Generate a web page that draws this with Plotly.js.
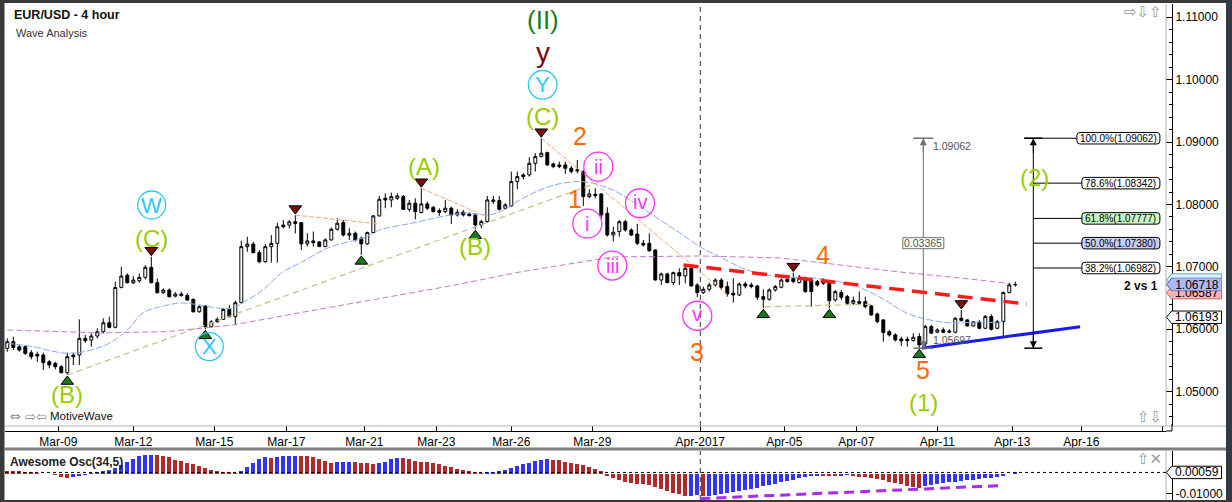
<!DOCTYPE html>
<html><head><meta charset="utf-8">
<script src="https://cdn.plot.ly/plotly-3.0.1.min.js"></script>
<style>html,body{margin:0;padding:0;background:#fff;overflow:hidden}#chart{width:1232px;height:502px}</style>
</head><body><div id="chart"></div>
<script>
// ---------------- DATA ----------------
const openP = [1.05694,1.05801,1.05721,1.05721,1.05625,1.05598,1.05587,1.05480,1.05454,1.05400,
1.05304,1.05587,1.05587,1.05854,1.05828,1.05892,1.05961,1.06105,1.06031,1.06671,
1.06864,1.06746,1.06778,1.06832,1.06992,1.06746,1.06586,1.06629,1.06532,1.06564,
1.06543,1.06479,1.06281,1.06372,1.06041,1.06121,1.06159,1.06319,1.06201,1.06426,
1.07324,1.07366,1.07228,1.07083,1.07324,1.07377,1.07670,1.07670,1.07723,1.07710,
1.07368,1.07416,1.07400,1.07325,1.07432,1.07603,1.07710,1.07507,1.07539,1.07459,
1.07368,1.07550,1.07817,1.08100,1.08073,1.08100,1.08126,1.07923,1.08020,1.07870,
1.08009,1.07955,1.07902,1.07886,1.07940,1.07833,1.07875,1.07849,1.07833,1.07672,
1.07726,1.08046,1.08062,1.07940,1.07977,1.08367,1.08474,1.08474,1.08660,1.08767,
1.08831,1.08650,1.08634,1.08634,1.08581,1.08538,1.08527,1.08126,1.08164,1.08169,
1.07859,1.07512,1.07565,1.07725,1.07591,1.07527,1.07378,1.07378,1.07271,1.06790,
1.06887,1.06748,1.06908,1.06855,1.06978,1.06710,1.06587,1.06641,1.06710,1.06790,
1.06684,1.06577,1.06550,1.06726,1.06710,1.06694,1.06523,1.06481,1.06630,1.06673,
1.06801,1.06817,1.06748,1.06817,1.06790,1.06764,1.06780,1.06737,1.06470,1.06588,
1.06524,1.06417,1.06444,1.06444,1.06374,1.06246,1.06150,1.05963,1.05910,1.05846,
1.05840,1.05819,1.05883,1.05766,1.06043,1.05953,1.05990,1.05953,1.05953,1.06177,
1.06150,1.06054,1.06107,1.06017,1.06204,1.06017,1.06123,1.06588,1.06711];
const highP = [1.05854,1.05881,1.05748,1.05748,1.05667,1.05641,1.05625,1.05507,1.05480,1.05427,
1.05625,1.05625,1.06159,1.05908,1.05934,1.06015,1.06175,1.06201,1.06762,1.07002,
1.06896,1.06853,1.06896,1.07029,1.07163,1.06816,1.06655,1.06655,1.06596,1.06602,
1.06575,1.06495,1.06388,1.06388,1.06148,1.06191,1.06335,1.06388,1.06458,1.07420,
1.07484,1.07403,1.07270,1.07366,1.07511,1.07707,1.07750,1.07750,1.07830,1.07710,
1.07539,1.07566,1.07411,1.07459,1.07630,1.07779,1.07752,1.07619,1.07566,1.07486,
1.07566,1.07833,1.08137,1.08180,1.08190,1.08180,1.08153,1.08073,1.08100,1.08260,
1.08046,1.07977,1.07940,1.08073,1.07966,1.07923,1.07913,1.07870,1.07859,1.07752,
1.08137,1.08137,1.08137,1.08020,1.08527,1.08527,1.08500,1.08757,1.08821,1.09062,
1.08847,1.08671,1.08687,1.08687,1.08618,1.08714,1.08554,1.08244,1.08260,1.08180,
1.07955,1.07646,1.07752,1.07752,1.07618,1.07688,1.07431,1.07538,1.07282,1.06908,
1.06908,1.06924,1.06978,1.07004,1.07004,1.06737,1.06684,1.06748,1.06817,1.06817,
1.06764,1.06817,1.06748,1.06764,1.06748,1.06710,1.06641,1.06657,1.06710,1.06817,
1.06844,1.06908,1.06870,1.06844,1.06817,1.06790,1.06817,1.06764,1.06630,1.06631,
1.06551,1.06524,1.06604,1.06524,1.06390,1.06268,1.06161,1.05990,1.05937,1.05883,
1.05883,1.05937,1.05937,1.06070,1.06070,1.06017,1.06027,1.06000,1.06193,1.06310,
1.06161,1.06134,1.06150,1.06230,1.06241,1.06150,1.06604,1.06748,1.06764];
const lowP = [1.05641,1.05667,1.05641,1.05587,1.05518,1.05480,1.05347,1.05374,1.05358,1.05294,
1.05267,1.05427,1.05427,1.05785,1.05721,1.05854,1.05934,1.06015,1.06015,1.06655,
1.06735,1.06725,1.06746,1.06800,1.06735,1.06575,1.06564,1.06511,1.06511,1.06520,
1.06458,1.06266,1.06266,1.05999,1.06031,1.06105,1.06148,1.06191,1.06084,1.06415,
1.07244,1.07217,1.07057,1.07067,1.07067,1.07067,1.07617,1.07617,1.07537,1.07272,
1.07325,1.07325,1.07320,1.07315,1.07421,1.07582,1.07486,1.07432,1.07405,1.07192,
1.07352,1.07539,1.07806,1.07940,1.07955,1.08073,1.07913,1.07886,1.07763,1.07859,
1.07913,1.07870,1.07817,1.07859,1.07689,1.07806,1.07806,1.07806,1.07603,1.07619,
1.07710,1.08009,1.07902,1.07923,1.07966,1.08243,1.08404,1.08447,1.08527,1.08757,
1.08618,1.08581,1.08581,1.08490,1.08500,1.08500,1.07977,1.08100,1.08100,1.07779,
1.07486,1.07406,1.07485,1.07565,1.07495,1.07351,1.07324,1.07244,1.06780,1.06710,
1.06737,1.06710,1.06710,1.06737,1.06684,1.06513,1.06566,1.06604,1.06684,1.06630,
1.06523,1.06427,1.06534,1.06657,1.06657,1.06470,1.06336,1.06459,1.06604,1.06657,
1.06748,1.06737,1.06737,1.06587,1.06363,1.06684,1.06710,1.06336,1.06443,1.06471,
1.06390,1.06390,1.06390,1.06337,1.06214,1.06097,1.05803,1.05883,1.05803,1.05733,
1.05723,1.05803,1.05697,1.05723,1.05926,1.05937,1.05937,1.05937,1.05937,1.06124,
1.06043,1.06043,1.06000,1.06000,1.05979,1.06000,1.05883,1.06577,1.06684];
const closeP = [1.05801,1.05710,1.05667,1.05614,1.05561,1.05571,1.05464,1.05427,1.05400,1.05304,
1.05561,1.05561,1.05854,1.05817,1.05892,1.05961,1.06105,1.06031,1.06671,1.06853,
1.06746,1.06789,1.06832,1.06992,1.06746,1.06586,1.06629,1.06522,1.06564,1.06543,
1.06468,1.06281,1.06362,1.06041,1.06121,1.06159,1.06319,1.06201,1.06426,1.07324,
1.07366,1.07228,1.07083,1.07324,1.07377,1.07643,1.07643,1.07723,1.07697,1.07368,
1.07416,1.07389,1.07325,1.07432,1.07603,1.07699,1.07512,1.07539,1.07432,1.07368,
1.07550,1.07817,1.08084,1.08073,1.08126,1.08137,1.07923,1.08020,1.07886,1.08009,
1.07940,1.07886,1.07875,1.07940,1.07833,1.07875,1.07833,1.07822,1.07672,1.07726,
1.08073,1.08073,1.07923,1.07993,1.08367,1.08447,1.08447,1.08660,1.08767,1.08821,
1.08634,1.08607,1.08607,1.08581,1.08527,1.08554,1.08126,1.08169,1.08142,1.07833,
1.07512,1.07555,1.07725,1.07591,1.07511,1.07378,1.07351,1.07260,1.06790,1.06887,
1.06748,1.06908,1.06855,1.06978,1.06694,1.06587,1.06641,1.06710,1.06790,1.06673,
1.06566,1.06550,1.06726,1.06694,1.06684,1.06513,1.06481,1.06630,1.06684,1.06790,
1.06764,1.06764,1.06817,1.06604,1.06604,1.06710,1.06737,1.06459,1.06604,1.06513,
1.06417,1.06460,1.06417,1.06364,1.06230,1.06123,1.05947,1.05910,1.05830,1.05814,
1.05819,1.05872,1.05750,1.06043,1.05937,1.05990,1.05953,1.05970,1.06177,1.06140,
1.06054,1.06123,1.06017,1.06204,1.06001,1.06123,1.06588,1.06711,1.06718];

// Awesome Oscillator (34,5)
const aoValues = [0.0013,0.00125,0.0012,0.0010,0.0008,0.0003,-0.0001,-0.0004,-0.0008,-0.0015,
-0.0024,-0.0017,-0.0013,-0.0007,0.0005,0.0008,0.0013,0.0020,0.0030,0.0044,
0.0060,0.0076,0.0089,0.0093,0.0095,0.0093,0.0090,0.0083,0.0070,0.0062,
0.0055,0.0047,0.0037,0.0027,0.0019,0.0014,0.0010,0.0006,0.0003,0.0013,
0.0035,0.0055,0.0075,0.0084,0.0081,0.0085,0.0087,0.0089,0.0091,0.0090,
0.0087,0.0082,0.0073,0.0062,0.0055,0.0057,0.0059,0.0061,0.0056,0.0053,
0.0051,0.0047,0.0054,0.0061,0.0075,0.0081,0.0079,0.0073,0.0066,0.0061,
0.0056,0.0051,0.0047,0.0040,0.0032,0.0024,0.0018,0.0013,0.0008,0.0004,
0.0006,0.0008,0.0013,0.0020,0.0030,0.0037,0.0047,0.0055,0.0064,0.0070,
0.0073,0.0071,0.0067,0.0061,0.0055,0.0048,0.0041,0.0031,0.0022,0.0011,
-0.0010,-0.0022,-0.0033,-0.0040,-0.0047,-0.0050,-0.0054,-0.0058,-0.0067,-0.0079,
-0.0088,-0.0097,-0.0105,-0.0113,-0.0111,-0.0109,-0.0115,-0.0112,-0.0107,-0.0101,
-0.0096,-0.0091,-0.0087,-0.0082,-0.0077,-0.0071,-0.0064,-0.0057,-0.0050,-0.0044,
-0.0037,-0.0030,-0.0024,-0.0019,-0.0014,-0.0011,-0.0012,-0.0013,-0.0014,-0.0010,
-0.0008,-0.0011,-0.0015,-0.0018,-0.0021,-0.0025,-0.0031,-0.0040,-0.0047,-0.0054,
-0.0063,-0.0067,-0.0071,-0.0062,-0.0057,-0.0051,-0.0047,-0.0044,-0.0040,-0.0037,
-0.0034,-0.0030,-0.0027,-0.0024,-0.0020,-0.0017,-0.0010,-0.0003,0.00059];

// moving averages (candle index, price)
const maFastIdx = [0,4.3,9.3,12.6,17.1,20,22.6,25.4,28.8,32.1,35,37.6,40,42.6,45.9,48.8,53.8,59.3,62.1,67.6,72.1,76.6,79.9,82.1,85.4,88.8,92.6,96.6,100.9,103.8,108.8,112.1,115.5,118.8,123.3,128.8,134.3,138.8,141,145.4,149.9,153.8,157.6,161.6,165.5,166.6];
const maFastVal = [1.05776,1.05721,1.05620,1.05636,1.05780,1.05989,1.06261,1.06357,1.06421,1.06389,1.06341,1.06341,1.06470,1.06630,1.06918,1.07063,1.07319,1.07463,1.07592,1.07704,1.07800,1.07864,1.07832,1.07880,1.08072,1.08232,1.08344,1.08360,1.08232,1.08072,1.07752,1.07543,1.07319,1.07159,1.06950,1.06838,1.06822,1.06758,1.06710,1.06518,1.06261,1.06149,1.06101,1.06117,1.06117,1.06181];
const maSlowIdx = [0,15.5,26.6,37.6,48.8,61,73.8,85.4,100.9,115.5,128.8,138.8,148.8,158.8,166.3];
const maSlowVal = [1.05989,1.05941,1.05962,1.06069,1.06266,1.06470,1.06694,1.06918,1.07159,1.07175,1.07143,1.07030,1.06918,1.06822,1.06742];

// wave connector / trend lines (candle index, price)
const oliveIdx = [10,98.8,null,126.3,144.3];
const oliveVal = [1.05267,1.08365,null,1.06362,1.06401];
const orangeIdx = [48,62,null,69,79.9,null,89,120.1];
const orangeVal = [1.07830,1.07688,null,1.08260,1.07805,null,1.09062,1.06550];
const redTrendIdx = [112.7,169.9];
const redTrendVal = [1.07030,1.06405];
const blueTrendIdx = [152.4,178.8];
const blueTrendVal = [1.05697,1.06042];
const oscTrendIdx = [115.5,166];
const oscTrendVal = [-0.0126,-0.0060];

// swing markers (candle indices)
const peakIdx = [24,48,69,89,131,159];
const troughIdx = [10,33,59,78,126,137,152];

// fibonacci / measuring tools
const toolHigh = 1.09062, toolLow = 1.05697, toolDiff = '0.03365';
const fibPct = ['100.0%','78.6%','61.8%','50.0%','38.2%'];
const fibLevels = [1.09062,1.08342,1.07777,1.07380,1.06982];
const measureIdx = 152.67, fibIdx = 171.0, fibBoxRightIdx = 192.1;

// axis tags on the right
const tagVals = [1.06790,1.06587,1.06718,1.06193];
const oscTagVal = 0.00059;

// x-axis ticks
const tickPos = [8.5,21,34.5,46.5,59.5,71.5,84,97.5,115.5,129.5,141.5,155,167.5,179,192.5];
const tickLabels = ['Mar-09','Mar-12','Mar-15','Mar-17','Mar-21','Mar-23','Mar-26','Mar-29','Apr-2017','Apr-05','Apr-07','Apr-11','Apr-13','Apr-16',''];
const monthStartIdx = 115.5;

// ---------------- STYLE ----------------
const W = 1232, H = 502;
const FONT = 'Liberation Sans, Arial, sans-serif';
const px = x => x / W, py = y => 1 - y / H;
const X_RANGE = [-0.383, 193.117];
const Y_RANGE = [1.04450, 1.11213];
const Y2_RANGE = [-0.0133, 0.01139];
const pricePerPx = (Y_RANGE[1] - Y_RANGE[0]) / (426 - 4);
const triOff = 6.5 * pricePerPx;

const YG = '#9acd00', OR = '#ff6a00', CY = '#2cc8f8', MG = '#ff33ff', DG = '#1a7f1a', DR = '#7f0a0a';

const waveLabels = [
  {t:'(II)', i:89, a:'H', dx:1.4, dy:118.4, c:DG, s:26},
  {t:'y', i:89, a:'H', dx:1.4, dy:86, c:DR, s:28},
  {t:'Y', i:89, a:'H', dx:1.4, dy:53.4, c:CY, s:22, r:14.3},
  {t:'(C)', i:89, a:'H', dx:1.4, dy:22, c:YG, s:24},
  {t:'2', i:89, a:'H', dx:38.7, dy:2, c:OR, s:25},
  {t:'W', i:24, a:'H', dx:0.4, dy:51.7, c:CY, s:22, r:14},
  {t:'(C)', i:24, a:'H', dx:0, dy:18.7, c:YG, s:24},
  {t:'(B)', i:10, a:'L', dx:-0.6, dy:-19.7, c:YG, s:24},
  {t:'X', i:33, a:'L', dx:4, dy:-17.2, c:CY, s:22, r:14},
  {t:'(A)', i:69, a:'H', dx:2.7, dy:22, c:YG, s:24},
  {t:'(B)', i:78, a:'L', dx:0, dy:-17, c:YG, s:24},
  {t:'1', i:96, a:'L', dx:-8.3, dy:7.1, c:OR, s:25},
  {t:'ii', i:98, a:'H', dx:3, dy:21.6, c:MG, s:20, r:14.5},
  {t:'i', i:97, a:'L', dx:-2, dy:-25.4, c:MG, s:20, r:14.5},
  {t:'iii', i:101, a:'L', dx:-1, dy:-24, c:MG, s:20, r:14.5},
  {t:'iv', i:105, a:'H', dx:2.7, dy:20.7, c:MG, s:20, r:14.5, tdy:1},
  {t:'v', i:115, a:'L', dx:0, dy:-18.5, c:MG, s:20, r:14.5, tdy:2},
  {t:'3', i:115, a:'L', dx:-0.6, dy:-54.4, c:OR, s:25},
  {t:'4', i:131, a:'H', dx:30, dy:17.6, c:OR, s:25},
  {t:'5', i:152, a:'L', dx:4, dy:-21.6, c:OR, s:25},
  {t:'(1)', i:152, a:'L', dx:4, dy:-54.6, c:YG, s:24}
];

// ---------------- TRACES ----------------
const idx = openP.map((_, i) => i);
const aoColors = aoValues.map((v, i) => (i > 0 && v > aoValues[i - 1]) ? '#3333ff' : '#b02a2a');

const traces = [
  {type:'scatter', mode:'lines', x:maSlowIdx, y:maSlowVal, xaxis:'x', yaxis:'y', line:{color:'#c67ac6', width:1, dash:'6px,3px'}, hoverinfo:'skip'},
  {type:'scatter', mode:'lines', x:maFastIdx, y:maFastVal, xaxis:'x', yaxis:'y', line:{color:'#8aaaf8', width:1, dash:'7px,2px', shape:'spline'}, hoverinfo:'skip'},
  {type:'scatter', mode:'lines', x:oliveIdx, y:oliveVal, xaxis:'x', yaxis:'y', line:{color:'#c4bf86', width:1.2, dash:'6px,4px'}, hoverinfo:'skip'},
  {type:'scatter', mode:'lines', x:orangeIdx, y:orangeVal, xaxis:'x', yaxis:'y', line:{color:'#f7a777', width:1, dash:'5px,2px'}, hoverinfo:'skip'},
  {type:'candlestick', x:idx, open:openP, high:highP, low:lowP, close:closeP, xaxis:'x', yaxis:'y',
    increasing:{line:{color:'#000', width:1}, fillcolor:'#fff'},
    decreasing:{line:{color:'#000', width:1}, fillcolor:'#000'},
    whiskerwidth:0, hoverinfo:'skip'},
  {type:'scatter', mode:'lines', x:redTrendIdx, y:redTrendVal, xaxis:'x', yaxis:'y', line:{color:'#ff1a1a', width:3.5, dash:'15px,8px'}, hoverinfo:'skip'},
  {type:'scatter', mode:'lines', x:blueTrendIdx, y:blueTrendVal, xaxis:'x', yaxis:'y', line:{color:'#1a1aee', width:3}, hoverinfo:'skip'},
  {type:'scatter', mode:'markers', x:peakIdx, y:peakIdx.map(i => highP[i] + triOff), xaxis:'x', yaxis:'y',
    marker:{symbol:'triangle-down', size:11, color:'#7a1010', line:{color:'#000', width:1}}, hoverinfo:'skip'},
  {type:'scatter', mode:'markers', x:troughIdx, y:troughIdx.map(i => lowP[i] - triOff), xaxis:'x', yaxis:'y',
    marker:{symbol:'triangle-up', size:11, color:'#1a7a1a', line:{color:'#000', width:1}}, hoverinfo:'skip'},
  {type:'bar', x:idx, y:aoValues, xaxis:'x2', yaxis:'y2', width:0.72, marker:{color:aoColors, line:{width:0}}, hoverinfo:'skip'},
  {type:'scatter', mode:'lines', x:oscTrendIdx, y:oscTrendVal, xaxis:'x2', yaxis:'y2', line:{color:'#a52cf0', width:3, dash:'10px,6px'}, hoverinfo:'skip'}
];

// ---------------- SHAPES & ANNOTATIONS ----------------
const shapes = [], ann = [];
const paperRect = (x0, y0, x1, y1, fill) => shapes.push({type:'rect', xref:'paper', yref:'paper', x0:px(x0), x1:px(x1), y0:py(y1), y1:py(y0), fillcolor:fill, line:{width:0}, layer:'above'});
const paperLine = (x0, y0, x1, y1, color, w, dash) => shapes.push({type:'line', xref:'paper', yref:'paper', x0:px(x0), x1:px(x1), y0:py(y0), y1:py(y1), line:{color, width:w||1, dash:dash||'solid'}, layer:'above'});

// frame
paperLine(4, 426, 1226, 426, '#b4b4aa');
paperLine(1166, 4, 1166, 426, '#b4b4aa');
paperLine(1166, 451, 1166, 500, '#b4b4aa');
paperLine(1172, 424, 1172, 431, '#000');
paperLine(1166, 431, 1172, 431, '#000');
paperRect(0, 0, 4.5, 502, '#3a3a3a');
paperRect(0, 0, 1232, 3, '#3a3a3a');
paperRect(1226, 0, 1232, 502, '#343a44');
paperRect(0, 500, 1232, 502, '#3a3a3a');
paperRect(4.5, 447.5, 1226, 450.5, '#808080');

// month separator
shapes.push({type:'line', xref:'x', yref:'paper', x0:monthStartIdx, x1:monthStartIdx, y0:py(426), y1:py(4), line:{color:'#333', width:1, dash:'5px,4px'}, layer:'below'});
shapes.push({type:'line', xref:'x2', yref:'paper', x0:monthStartIdx, x1:monthStartIdx, y0:py(500), y1:py(451), line:{color:'#333', width:1, dash:'5px,4px'}, layer:'below'});

// oscillator current value line
shapes.push({type:'line', xref:'paper', yref:'y2', x0:px(5), x1:px(1167), y0:aoValues[aoValues.length-1], y1:aoValues[aoValues.length-1], line:{color:'#000', width:1, dash:'3px,3px'}});

// wave labels
waveLabels.forEach(l => {
  const y = l.a === 'H' ? highP[l.i] : lowP[l.i];
  ann.push({x:l.i, y, xref:'x', yref:'y', text:l.t, showarrow:false, xshift:l.dx, yshift:l.dy + (l.tdy || 0),
    xanchor:'center', yanchor:'middle', font:{family:FONT, size:l.s, color:l.c}});
  if (l.r) shapes.push({type:'circle', xref:'x', yref:'y', xsizemode:'pixel', ysizemode:'pixel', xanchor:l.i, yanchor:y,
    x0:l.dx - l.r, x1:l.dx + l.r, y0:l.dy - l.r, y1:l.dy + l.r, line:{color:l.c, width:1.3}, layer:'above'});
});

// measure tool (grey)
const GR = '#707070';
shapes.push({type:'line', xref:'x', yref:'y', x0:measureIdx, x1:measureIdx, y0:toolLow, y1:toolHigh, line:{color:GR, width:1}});
[toolHigh, toolLow].forEach(v => shapes.push({type:'line', xref:'x', yref:'y', xsizemode:'pixel', xanchor:measureIdx, x0:-10, x1:10, y0:v, y1:v, line:{color:GR, width:1.5}}));
ann.push({x:measureIdx, y:toolHigh, xref:'x', yref:'y', ax:0, ay:16, text:'', showarrow:true, arrowhead:2, arrowsize:1.4, arrowwidth:1, arrowcolor:GR});
ann.push({x:measureIdx, y:toolLow, xref:'x', yref:'y', ax:0, ay:-16, text:'', showarrow:true, arrowhead:2, arrowsize:1.4, arrowwidth:1, arrowcolor:GR});
ann.push({x:measureIdx, y:toolHigh, xref:'x', yref:'y', text:toolHigh.toFixed(5), showarrow:false, xanchor:'left', xshift:8, yshift:-8, font:{family:FONT, size:10.5, color:'#555'}});
ann.push({x:measureIdx, y:toolLow, xref:'x', yref:'y', text:toolLow.toFixed(5), showarrow:false, xanchor:'left', xshift:8, yshift:8, font:{family:FONT, size:10.5, color:'#555'}});
const mid = (toolHigh + toolLow) / 2;
shapes.push({type:'rect', xref:'x', yref:'y', xsizemode:'pixel', ysizemode:'pixel', xanchor:measureIdx, yanchor:mid, x0:-20.5, x1:20.5, y0:-5.5, y1:5.5, fillcolor:'#fff', line:{color:GR, width:1}, layer:'above'});
ann.push({x:measureIdx, y:mid, xref:'x', yref:'y', text:toolDiff, showarrow:false, xanchor:'center', font:{family:FONT, size:10.5, color:'#555'}});

// fibonacci tool (black)
function rrect(x0, x1, h, r) {
  const t = h / 2;
  return `M${x0+r},${t} L${x1-r},${t} Q${x1},${t} ${x1},${t-r} L${x1},${-t+r} Q${x1},${-t} ${x1-r},${-t} L${x0+r},${-t} Q${x0},${-t} ${x0},${-t+r} L${x0},${t-r} Q${x0},${t} ${x0+r},${t} Z`;
}
shapes.push({type:'line', xref:'x', yref:'y', x0:fibIdx, x1:fibIdx, y0:toolLow, y1:toolHigh, line:{color:'#000', width:1}});
[toolHigh, toolLow].forEach(v => shapes.push({type:'line', xref:'x', yref:'y', xsizemode:'pixel', xanchor:fibIdx, x0:-9, x1:9, y0:v, y1:v, line:{color:'#000', width:1.5}}));
ann.push({x:fibIdx, y:toolHigh, xref:'x', yref:'y', ax:0, ay:16, text:'', showarrow:true, arrowhead:2, arrowsize:1.4, arrowwidth:1, arrowcolor:'#000'});
ann.push({x:fibIdx, y:toolLow, xref:'x', yref:'y', ax:0, ay:-16, text:'', showarrow:true, arrowhead:2, arrowsize:1.4, arrowwidth:1, arrowcolor:'#000'});
const fibFill = ['#ffffff','#ffffff','#c8f7c4','#c6cdf6','#ffffff'];
fibLevels.forEach((v, k) => {
  const txt = fibPct[k] + '(' + v.toFixed(5) + ')';
  const w = 5 * txt.length + 8;
  shapes.push({type:'line', xref:'x', yref:'y', x0:fibIdx - (k === 0 ? 1.5 : 0), x1:fibBoxRightIdx - 3, y0:v, y1:v, line:{color:'#000', width:1}});
  shapes.push({type:'path', xref:'x', yref:'y', xsizemode:'pixel', ysizemode:'pixel', xanchor:fibBoxRightIdx, yanchor:v,
    path:rrect(-w, 0, 11.5, 3), fillcolor:fibFill[k], line:{color:'#000', width:1}, layer:'above'});
  ann.push({x:fibBoxRightIdx, y:v, xref:'x', yref:'y', xshift:-w/2, xanchor:'center', text:txt, showarrow:false, font:{family:FONT, size:10, color:'#000'}});
});
// (2) projection label at the fib tool
ann.push({x:fibIdx, y:fibLevels[1], xref:'x', yref:'y', text:'(2)', showarrow:false, xanchor:'center', xshift:1, yshift:6, font:{family:FONT, size:24, color:YG}});

// right axis tags: [hidden MA tag, pink, blue (last price, on top), white]
const tagFill = ['#d6f2fb','#f5b5b5','#b0b8f4','#ffffff'];
const tagLine = ['#6aa0c8','#c06a6a','#4a58c8','#000000'];
const tagPath = 'M0,0 L5,6.2 L55,6.2 L55,-6.2 L5,-6.2 Z';
tagVals.forEach((v, k) => {
  shapes.push({type:'path', xref:'paper', yref:'y', xsizemode:'pixel', ysizemode:'pixel', xanchor:px(1166.5), yanchor:v, path:tagPath, fillcolor:tagFill[k], line:{color:tagLine[k], width:1}, layer:'above'});
  if (k === 0) return;
  const a = {x:px(1197), y:v, xref:'paper', yref:'y', xanchor:'center', yanchor:'middle', text:v.toFixed(5), showarrow:false, font:{family:FONT, size:12, color:'#000'}};
  if (k === 2) Object.assign(a, {bgcolor:tagFill[k], width:48, height:11, borderpad:0});
  ann.push(a);
});
shapes.push({type:'path', xref:'paper', yref:'y2', xsizemode:'pixel', ysizemode:'pixel', xanchor:px(1166.5), yanchor:oscTagVal, path:tagPath, fillcolor:'#fff', line:{color:'#000', width:1}, layer:'above'});
ann.push({x:px(1197), y:oscTagVal, xref:'paper', yref:'y2', xanchor:'center', yanchor:'middle', text:oscTagVal.toFixed(5), showarrow:false, font:{family:FONT, size:12, color:'#000'}});

// texts
const pText = (x, y, text, opts) => ann.push(Object.assign({x:px(x), y:py(y), xref:'paper', yref:'paper', text, showarrow:false, xanchor:'left', yanchor:'middle'}, opts));
pText(12, 15, '<b>EUR/USD - 4 hour</b>', {font:{family:FONT, size:12.5, color:'#111'}});
pText(14, 33, 'Wave Analysis', {font:{family:FONT, size:11, color:'#333'}});
pText(8, 461.5, '<b>Awesome Osc(34,5)</b>', {font:{family:FONT, size:12, color:'#222'}});
pText(48, 416, 'MotiveWave', {font:{family:FONT, size:11.5, color:'#111'}});
pText(8, 416, '⇔ ⇨⇦', {font:{family:'DejaVu Sans', size:13, color:'#888'}});
pText(1160, 286, '<b>2 vs 1</b>', {xanchor:'right', font:{family:FONT, size:12, color:'#111'}});
pText(1164, 12, '⇨⇩⇧', {xanchor:'right', font:{family:'DejaVu Sans', size:15, color:'#999'}});
pText(1164, 417, '⇧⇩', {xanchor:'right', font:{family:'DejaVu Sans', size:15, color:'#999'}});
pText(1164, 459, '⇧✕', {xanchor:'right', font:{family:'DejaVu Sans', size:15, color:'#999'}});

const tickFont = {family:FONT, size:12, color:'#000'};
const layout = {
  width:W, height:H, margin:{l:0, r:0, t:0, b:0, pad:0},
  paper_bgcolor:'#fff', plot_bgcolor:'rgba(0,0,0,0)', showlegend:false, hovermode:false, bargap:0,
  xaxis:{domain:[px(5), px(1166)], range:X_RANGE, anchor:'free', position:py(431), showline:true, linecolor:'#000', linewidth:1,
    ticks:'inside', ticklen:5, tickcolor:'#000', tickvals:tickPos, ticktext:tickLabels, tickfont:tickFont,
    showgrid:false, zeroline:false, rangeslider:{visible:false}, fixedrange:true},
  yaxis:{domain:[py(426), py(4)], range:Y_RANGE, anchor:'free', position:px(1172), side:'right', showline:true, linecolor:'#000', linewidth:1,
    ticks:'inside', ticklen:6, tickcolor:'#000', tick0:1, dtick:0.01, tickformat:'.5f', tickfont:tickFont,
    minor:{ticks:'inside', ticklen:3, tick0:1, dtick:0.002, tickcolor:'#000', showgrid:false},
    showgrid:false, zeroline:false, fixedrange:true},
  xaxis2:{domain:[px(5), px(1166)], range:X_RANGE, anchor:'y2', visible:false, fixedrange:true},
  yaxis2:{domain:[py(500), py(451)], range:Y2_RANGE, anchor:'free', position:px(1172), side:'right', showline:true, linecolor:'#000', linewidth:1,
    ticks:'inside', ticklen:6, tickcolor:'#000', tickvals:[-0.01], ticktext:['-0.01000'], tickfont:tickFont,
    showgrid:false, zeroline:false, fixedrange:true},
  shapes, annotations:ann
};
Plotly.newPlot('chart', traces, layout, {staticPlot:true, displayModeBar:false});
</script></body></html>
